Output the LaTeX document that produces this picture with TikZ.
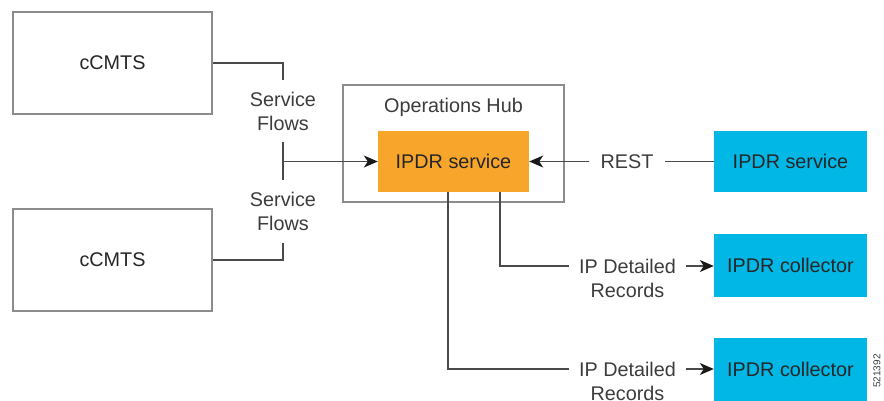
\documentclass[tikz,border=0pt]{standalone}
\usepackage{fontspec}
\setmainfont{Liberation Sans}
\usetikzlibrary{arrows.meta}
\definecolor{ipdrorange}{HTML}{F8A52B}
\definecolor{ipdrblue}{HTML}{00B7E6}
\definecolor{boxgray}{HTML}{8C8C8C}
\definecolor{linegray}{HTML}{4A4A4A}
\definecolor{txtgray}{HTML}{3C3C3C}
\begin{document}
\begin{tikzpicture}[x=1pt,y=-1pt,
  font=\fontsize{19.8}{24}\selectfont,
  whitebox/.style={draw=boxgray,line width=1.2pt,fill=white,text=black!85,inner sep=0pt},
  orangebox/.style={fill=ipdrorange,text=black!85,inner sep=0pt},
  bluebox/.style={fill=ipdrblue,text=black!85,inner sep=0pt},
  lbl/.style={text=txtgray,align=center,inner sep=0pt},
  conn/.style={draw=linegray,line width=1.4pt},
  arr/.style={conn,-{Stealth[length=14pt,width=12pt,inset=4pt,color=black!90]}}
]
\useasboundingbox (0,0) rectangle (884,400);
% boxes
\node[whitebox,minimum width=199pt,minimum height=102pt] (c1) at (112.5,63) {cCMTS};
\node[whitebox,minimum width=199pt,minimum height=102pt] (c2) at (112.5,260) {cCMTS};
\node[whitebox,minimum width=221pt,minimum height=117pt] (hub) at (453.5,143.5) {};
\node[lbl] (hublbl) at (453.5,107) {Operations Hub};
\node[orangebox,minimum width=151pt,minimum height=61pt] (ipdr) at (453.5,161.5) {IPDR service};
\node[bluebox,minimum width=153pt,minimum height=61pt] (rsvc) at (790.5,161.5) {IPDR service};
\node[bluebox,minimum width=153pt,minimum height=63pt] (col1) at (790.5,265.5) {IPDR collector};
\node[bluebox,minimum width=153pt,minimum height=63pt] (col2) at (790.5,369.5) {IPDR collector};
% labels
\node[lbl,minimum height=62pt] (sf1) at (283,111) {Service\\Flows};
\node[lbl,minimum height=63pt] (sf2) at (283,211.5) {Service\\Flows};
\node[lbl,inner xsep=11pt] (rest) at (627,161.5) {REST};
\node[lbl,inner xsep=10pt] (ipd1) at (627.5,278) {IP Detailed\\Records};
\node[lbl,inner xsep=10pt] (ipd2) at (627.5,381) {IP Detailed\\Records};
\node[text=txtgray,rotate=90,font=\fontsize{10}{12}\selectfont,inner sep=0pt] (figid) at (877,371) {521392};
% coordinates
\coordinate (j) at (sf1.south |- ipdr.west);
\coordinate (d1) at (500,0);
\coordinate (d2) at (448,0);
\coordinate (i1w) at ([yshift=12pt]ipd1.west);
\coordinate (i1e) at ([yshift=12pt]ipd1.east);
\coordinate (i2w) at ([yshift=12pt]ipd2.west);
\coordinate (i2e) at ([yshift=12pt]ipd2.east);
% connectors
\draw[conn] (c1.east) -| (sf1.north);
\draw[conn] (c2.east) -| (sf2.south);
\draw[conn] (sf1.south) -- (sf2.north);
\draw[arr] (j) -- (ipdr.west);
\draw[conn] (rsvc.west) -- (rest.east);
\draw[arr] (rest.west) -- (ipdr.east);
\draw[conn] (ipdr.south -| d1) |- (i1w);
\draw[arr] (i1e) -- (col1.west |- i1e);
\draw[conn] (ipdr.south -| d2) |- (i2w);
\draw[arr] (i2e) -- (col2.west |- i2e);
\end{tikzpicture}
\end{document}
